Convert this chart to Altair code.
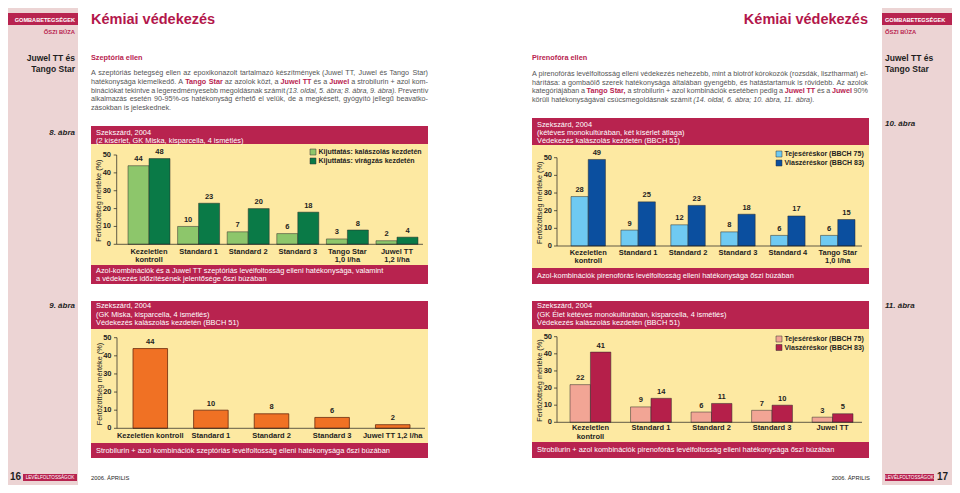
import unicodedata
import altair as alt
import pandas as pd

# ---------------- data ----------------
yticks = [0, 10, 20, 30, 40, 50]

cats8 = ["Kezeletlen\nkontroll", "Standard 1", "Standard 2", "Standard 3", "Tango Star\n1,0 l/ha", "Juwel TT\n1,2 l/ha"]
series8 = ["Kijuttatás: kalászolás kezdetén", "Kijuttatás: virágzás kezdetén"]
vals8a = [44, 10, 7, 6, 3, 2]
vals8b = [48, 23, 20, 18, 8, 4]

cats9 = ["Kezeletlen kontroll", "Standard 1", "Standard 2", "Standard 3", "Juwel TT 1,2 l/ha"]
vals9 = [44, 10, 8, 6, 2]

cats10 = ["Kezeletlen\nkontroll", "Standard 1", "Standard 2", "Standard 3", "Standard 4", "Tango Star\n1,0 l/ha"]
series10 = ["Tejeséréskor (BBCH 75)", "Viaszéréskor (BBCH 83)"]
vals10a = [28, 9, 12, 8, 6, 6]
vals10b = [49, 25, 23, 18, 17, 15]

cats11 = ["Kezeletlen\nkontroll", "Standard 1", "Standard 2", "Standard 3", "Juwel TT"]
series11 = ["Tejeséréskor (BBCH 75)", "Viaszéréskor (BBCH 83)"]
vals11a = [22, 9, 6, 7, 3]
vals11b = [41, 14, 11, 10, 5]

# paragraph text (*word = highlighted, _word = italic)
para_left = [
    "A szeptóriás betegség ellen az epoxikonazolt tartalmazó készítmények (Juwel TT, Juwel és Tango Star)",
    "hatékonysága kiemelkedő. A *Tango *Star az azolok közt, a *Juwel *TT és a *Juwel a strobilurin + azol kom-",
    "binációkat tekintve a legeredményesebb megoldásnak számít _(13. _oldal, _5. _ábra; _8. _ábra, _9. _ábra). Preventív",
    "alkalmazás esetén 90-95%-os hatékonyság érhető el velük, de a megkésett, gyógyító jellegű beavatko-",
    "zásokban is jeleskednek.",
]
para_right = [
    "A pirenofórás levélfoltosság elleni védekezés nehezebb, mint a biotróf kórokozók (rozsdák, lisztharmat) el-",
    "hárítása: a gombaölő szerek hatékonysága általában gyengébb, és hatástartamuk is rövidebb. Az azolok",
    "kategóriájában a *Tango *Star, a strobilurin + azol kombinációk esetében pedig a *Juwel *TT és a *Juwel 90%",
    "körüli hatékonyságával csúcsmegoldásnak számít _(14. _oldal, _6. _ábra; _10. _ábra, _11. _ábra).",
]

# ---------------- style ----------------
FONT = "Liberation Sans, Arial, Helvetica, sans-serif"
CRIMSON = "#b8234f"
TITLE_C = "#b3174b"
PINK = "#ecd4d4"
YELLOW = "#fde9a2"
GRAY = "#555555"
DARK = "#1e1e1e"

# Arial / Liberation Sans advance widths (1/1000 em), for text layout only
_REG = dict(zip("ABCDEFGHIJKLMNOPQRSTUVWXYZ",
                [667, 667, 722, 722, 667, 611, 778, 722, 278, 500, 667, 556, 833, 722, 778, 667, 778, 722, 667, 611, 722, 667, 944, 667, 667, 611]))
_REG.update(zip("abcdefghijklmnopqrstuvwxyz",
                [556, 556, 500, 556, 556, 278, 556, 556, 222, 222, 500, 222, 833, 556, 556, 556, 556, 333, 500, 278, 556, 500, 722, 500, 500, 500]))
_REG.update({" ": 278, ",": 278, ".": 278, ";": 278, ":": 278, "(": 333, ")": 333, "-": 333, "+": 584, "%": 889, "/": 278})
_REG.update({d: 556 for d in "0123456789"})
_BOLD = dict(_REG)
_BOLD.update(zip("abcdefghijklmnopqrstuvwxyz",
                 [556, 611, 556, 611, 556, 333, 611, 611, 278, 278, 556, 278, 889, 611, 611, 611, 611, 389, 556, 333, 611, 556, 778, 556, 556, 500]))
_BOLD.update({"J": 556, "K": 722, "L": 611, "A": 722, "B": 722})


def tw(s, size, bold=False):
    tab = _BOLD if bold else _REG
    tot = 0
    for ch in s:
        b = unicodedata.normalize("NFD", ch)[0]
        tot += tab.get(b, 556)
    return tot * size / 1000.0


def P(v):
    return v - 8


base = alt.Chart(pd.DataFrame({"k": [0]}))


def rect(x1, y1, x2, y2, color, stroke=None, sw=0.0):
    kw = dict(color=color)
    if stroke:
        kw.update(stroke=stroke, strokeWidth=sw)
    return base.mark_rect(**kw).encode(
        x=alt.value(max(P(x1), 0)), x2=alt.value(P(x2)),
        y=alt.value(max(P(y1), 0)), y2=alt.value(P(y2)))


def text(s, x, y, size=7.0, color=GRAY, weight="normal", align="left",
         font=FONT, style="normal", angle=0):
    return base.mark_text(fontSize=size, color=color, fontWeight=weight, align=align,
                          font=font, fontStyle=style, baseline="middle", angle=angle).encode(
        x=alt.value(P(x)), y=alt.value(P(y)), text=alt.value(s))


PS = 7.2


def paragraph(lines, x0, x1, ys):
    rows = []
    for li, (line, yy) in enumerate(zip(lines, ys)):
        words = []
        for w in line.split(" "):
            kind = "r"
            if w.startswith("*"):
                kind, w = "b", w[1:]
            elif w.startswith("_"):
                kind, w = "i", w[1:]
            words.append((w, kind, tw(w, PS, kind == "b")))
        total = sum(wd for _, _, wd in words)
        last = li == len(lines) - 1
        gap = tw(" ", PS) if last or len(words) < 2 else (x1 - x0 - total) / (len(words) - 1)
        gap = max(gap, 1.2)
        x = x0
        for w, kind, wd in words:
            rows.append({"w": w, "kind": kind, "x": P(x), "y": P(yy)})
            x += wd + gap
    df = pd.DataFrame(rows)
    out = []
    for kind, color, weight, style in [("r", GRAY, "normal", "normal"), ("b", CRIMSON, "bold", "normal"),
                                        ("i", GRAY, "normal", "italic")]:
        sub = df[df["kind"] == kind]
        if len(sub):
            out.append(alt.Chart(sub).mark_text(align="left", baseline="middle", fontSize=PS, font=FONT,
                                                color=color, fontWeight=weight, fontStyle=style).encode(
                x=alt.X("x:Q", scale=None), y=alt.Y("y:Q", scale=None), text="w:N"))
    return out


def axes_parts(ys, ax, ax_end, y0, y50, tick_label_x, ytitle_x):
    tdf = pd.DataFrame({"t": yticks})
    Yt = alt.Y("t:Q", scale=ys, axis=None)
    tl = alt.Chart(tdf).mark_text(align="right", baseline="middle", fontSize=7.5, fontWeight="bold",
                                  font=FONT, color=DARK).encode(
        x=alt.value(P(tick_label_x)), y=Yt, text="t:Q")
    tk = alt.Chart(tdf).mark_rule(color=DARK, strokeWidth=0.7).encode(
        x=alt.value(P(ax - 3)), x2=alt.value(P(ax)), y=Yt)
    yline = base.mark_rule(color=DARK, strokeWidth=0.7).encode(
        x=alt.value(P(ax)), y=alt.value(P(y50)), y2=alt.value(P(y0)))
    xline = base.mark_rule(color=DARK, strokeWidth=0.7).encode(
        x=alt.value(P(ax)), x2=alt.value(P(ax_end)), y=alt.value(P(y0)))
    ytitle = text("Fertőzöttség mértéke (%)", ytitle_x, (y0 + y50) / 2 + 1, size=7.3,
                  color=DARK, align="center", angle=270)
    return [tl, tk, yline, xline, ytitle]


def grouped(cats, series, va, vb, colors, xr, pi, y0, y50, ax, ax_end, tick_label_x,
            ytitle_x, lab_y):
    n = len(cats)
    df = pd.DataFrame({"cat": cats + cats,
                       "s": [series[0]] * n + [series[1]] * n,
                       "v": va + vb})
    xs = alt.Scale(domain=cats, range=[P(xr[0]), P(xr[1])], paddingInner=pi, paddingOuter=0)
    ys = alt.Scale(domain=[0, 50], range=[P(y0), P(y50)], nice=False, zero=True)
    X = alt.X("cat:N", scale=xs, axis=None)
    XO = alt.XOffset("s:N", scale=alt.Scale(domain=series, paddingInner=0, paddingOuter=0))
    Y = alt.Y("v:Q", scale=ys, axis=None)
    bars = alt.Chart(df).mark_bar(stroke="#2a2a2a", strokeWidth=0.5).encode(
        x=X, xOffset=XO, y=Y,
        color=alt.Color("s:N", scale=alt.Scale(domain=series, range=colors), legend=None))
    vals = alt.Chart(df).mark_text(baseline="middle", dy=-6.5, fontSize=7.5, fontWeight="bold",
                                   font=FONT, color=DARK).encode(
        x=X, xOffset=XO, y=Y, text="v:Q")
    ldf = pd.DataFrame({"cat": cats})
    labs = alt.Chart(ldf).mark_text(baseline="top", lineBreak="\n", lineHeight=8.6, fontSize=7.5,
                                    fontWeight="bold", font=FONT, color=DARK).encode(
        x=X, y=alt.value(P(lab_y) - 4.5), text="cat:N")
    return alt.layer(bars, vals, labs, *axes_parts(ys, ax, ax_end, y0, y50, tick_label_x, ytitle_x))


def single(cats, va, color, xr, pi, y0, y50, ax, ax_end, tick_label_x, ytitle_x, lab_y):
    df = pd.DataFrame({"cat": cats, "v": va})
    xs = alt.Scale(domain=cats, range=[P(xr[0]), P(xr[1])], paddingInner=pi, paddingOuter=0)
    ys = alt.Scale(domain=[0, 50], range=[P(y0), P(y50)], nice=False, zero=True)
    X = alt.X("cat:N", scale=xs, axis=None)
    Y = alt.Y("v:Q", scale=ys, axis=None)
    bars = alt.Chart(df).mark_bar(color=color, stroke="#6b2a0c", strokeWidth=0.8).encode(x=X, y=Y)
    vals = alt.Chart(df).mark_text(baseline="middle", dy=-6.5, fontSize=7.5, fontWeight="bold",
                                   font=FONT, color=DARK).encode(x=X, y=Y, text="v:Q")
    labs = alt.Chart(df).mark_text(baseline="middle", fontSize=7.5, fontWeight="bold",
                                   font=FONT, color=DARK).encode(
        x=X, y=alt.value(P(lab_y)), text="cat:N")
    return alt.layer(bars, vals, labs, *axes_parts(ys, ax, ax_end, y0, y50, tick_label_x, ytitle_x))


def legend(x, y1, y2, names, colors):
    out = []
    for yy, nm, c in zip([y1, y2], names, colors):
        out.append(rect(x, yy - 3, x + 6, yy + 3, c, stroke="#333", sw=0.5))
        out.append(text(nm, x + 8.5, yy, size=7.0, color=DARK, weight="bold"))
    return out


layers = []
# page decoration
layers += [rect(0, 0, 78, 493, PINK), rect(882, 0, 960, 493, PINK)]
layers += [rect(0, 13, 78, 25, CRIMSON), rect(882, 13, 960, 25, CRIMSON)]
layers += [
    text("GOMBABETEGSÉGEK", 75, 19.5, size=5.6, color="white", weight="bold", align="right"),
    text("GOMBABETEGSÉGEK", 885, 19.5, size=5.6, color="white", weight="bold"),
    text("ŐSZI BÚZA", 75, 31.5, size=5.8, color=CRIMSON, weight="bold", align="right"),
    text("ŐSZI BÚZA", 885, 31.5, size=5.8, color=CRIMSON, weight="bold"),
    text("Kémiai védekezés", 91, 20, size=14.5, color=TITLE_C, weight="bold"),
    text("Kémiai védekezés", 868, 20, size=14.5, color=TITLE_C, weight="bold", align="right"),
    text("Juwel TT és", 75, 57.5, size=8.5, color=DARK, weight="bold", align="right"),
    text("Tango Star", 75, 68.5, size=8.5, color=DARK, weight="bold", align="right"),
    text("Juwel TT és", 885, 57.5, size=8.5, color=DARK, weight="bold"),
    text("Tango Star", 885, 68.5, size=8.5, color=DARK, weight="bold"),
    text("Szeptória ellen", 91, 57.5, size=7.3, color=CRIMSON, weight="bold"),
    text("Pirenofóra ellen", 532, 58, size=7.3, color=CRIMSON, weight="bold"),
]

layers += paragraph(para_left, 91, 428, [73, 82, 90.5, 99, 107.5])
layers += paragraph(para_right, 532, 868, [74, 82.5, 91, 99.5])

# figure labels
layers += [
    text("8. ábra", 75, 133, 8, DARK, weight="bold", style="italic", align="right"),
    text("9. ábra", 75, 306, 8, DARK, weight="bold", style="italic", align="right"),
    text("10. ábra", 885, 124, 8, DARK, weight="bold", style="italic"),
    text("11. ábra", 885, 306, 8, DARK, weight="bold", style="italic"),
]

# chart frames
HS = 7.4
layers += [
    rect(91, 126, 428, 144, CRIMSON), rect(91, 144, 428, 265, YELLOW), rect(91, 265, 428, 284, CRIMSON),
    text("Szekszárd, 2004", 96, 132.7, HS, "white"),
    text("(2 kísérlet, GK Miska, kisparcella, 4 ismétlés)", 96, 140.5, HS, "white"),
    text("Azol-kombinációk és a Juwel TT szeptóriás levélfoltosság elleni hatékonysága, valamint", 96, 271, HS, "white"),
    text("a védekezés időzítésének jelentősége őszi búzában", 96, 279, HS, "white"),

    rect(91, 301, 428, 329, CRIMSON), rect(91, 329, 428, 443, YELLOW), rect(91, 443, 428, 458, CRIMSON),
    text("Szekszárd, 2004", 96, 306, HS, "white"),
    text("(GK Miska, kisparcella, 4 ismétlés)", 96, 314.5, HS, "white"),
    text("Védekezés kalászolás kezdetén (BBCH 51)", 96, 323, HS, "white"),
    text("Strobilurin + azol kombinációk szeptóriás levélfoltosság elleni hatékonysága őszi búzában", 96, 450.5, HS, "white"),

    rect(532, 118, 869, 145, CRIMSON), rect(532, 145, 869, 268, YELLOW), rect(532, 268, 869, 284, CRIMSON),
    text("Szekszárd, 2004", 537, 124.7, HS, "white"),
    text("(kétéves monokultúrában, két kísérlet átlaga)", 537, 133, HS, "white"),
    text("Védekezés kalászolás kezdetén (BBCH 51)", 537, 141, HS, "white"),
    text("Azol-kombinációk pirenofórás levélfoltosság elleni hatékonysága őszi búzában", 537, 276, HS, "white"),

    rect(532, 301, 869, 329, CRIMSON), rect(532, 329, 869, 442, YELLOW), rect(532, 442, 869, 458, CRIMSON),
    text("Szekszárd, 2004", 537, 306, HS, "white"),
    text("(GK Élet kétéves monokultúrában, kisparcella, 4 ismétlés)", 537, 314.5, HS, "white"),
    text("Védekezés kalászolás kezdetén (BBCH 51)", 537, 323, HS, "white"),
    text("Strobilurin + azol kombinációk pirenofórás levélfoltosság elleni hatékonysága őszi búzában", 537, 450, HS, "white"),
]

# footer
layers += [
    text("16", 21, 477, 10, DARK, "bold", align="right"),
    rect(23, 474, 77, 481, CRIMSON),
    text("LEVÉLFOLTOSSÁGOK", 50, 477.5, 4.6, "white", align="center"),
    text("2006. ÁPRILIS", 91, 477.5, 5.8, DARK),
    text("2006. ÁPRILIS", 870, 477.5, 5.8, DARK, align="right"),
    rect(885, 474, 934, 481, CRIMSON),
    text("LEVÉLFOLTOSSÁGOK", 909.5, 477.5, 4.6, "white", align="center"),
    text("17", 937, 477, 10, DARK, "bold"),
]

# legends
C8 = ["#8dc66b", "#0a7a47"]
C10 = ["#6fcaf2", "#0b4f9f"]
C11 = ["#f2a595", "#b51f4a"]
layers += legend(310, 152, 161, series8, C8)
layers += legend(776, 154, 163, series10, C10)
layers += legend(776, 339, 347.5, series11, C11)

charts = [
    grouped(cats8, series8, vals8a, vals8b, C8, (128, 418), 0.153, 244.3, 155.0,
            116.7, 423, 111, 98.5, 252),
    single(cats9, vals9, "#f07124", (133, 410), 0.43, 428.3, 337.7, 117, 425, 111.5, 99.5, 436),
    grouped(cats10, series10, vals10a, vals10b, C10, (571, 855), 0.31, 246.0, 157.7,
            557, 862, 552, 539.5, 253),
    grouped(cats11, series11, vals11a, vals11b, C11, (570, 853), 0.325, 422.3, 336.7,
            557, 862, 552, 539.5, 428.5),
]

chart = alt.layer(*layers, *charts).resolve_scale(
    x="independent", y="independent", color="independent", xOffset="independent"
).properties(
    width=944, height=477, padding=0, autosize=alt.AutoSizeParams(type="none"), background="white"
).configure_view(stroke=None)

chart.save("out.html", embed_options={"renderer": "svg", "actions": False})
